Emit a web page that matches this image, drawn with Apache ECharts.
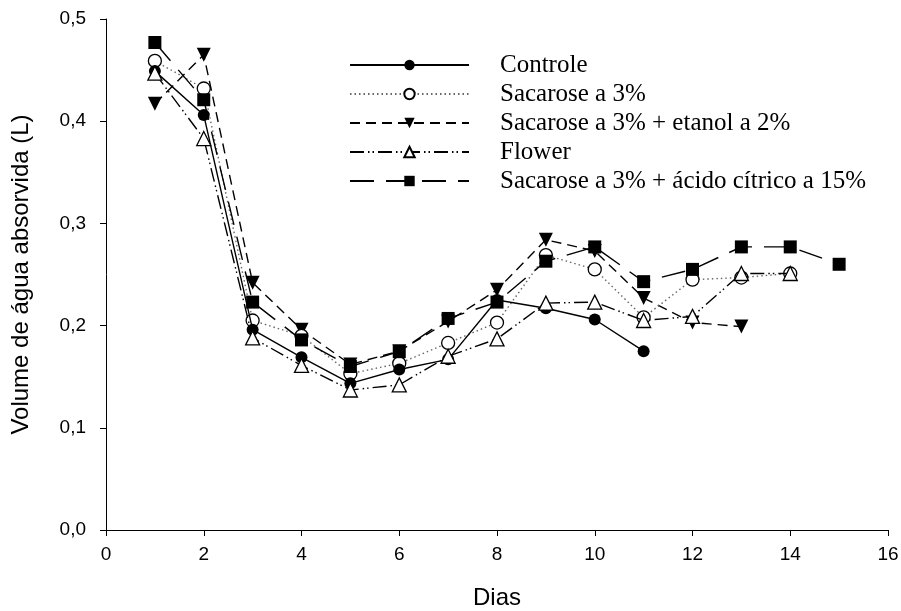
<!DOCTYPE html>
<html>
<head>
<meta charset="utf-8">
<script src="https://cdn.jsdelivr.net/npm/echarts@6/dist/echarts.min.js"></script>
<style>
  html, body { margin: 0; padding: 0; background: #fff; }
  #chart { width: 901px; height: 611px; }
</style>
</head>
<body>
<div id="chart"></div>
<script>
// dias
const diasControle = [1, 2, 3, 4, 5, 6, 7, 8, 9, 10, 11]
const diasSacarose = [1, 2, 3, 4, 5, 6, 7, 8, 9, 10, 11, 12, 13, 14]
const diasEtanol = [1, 2, 3, 4, 5, 6, 7, 8, 9, 10, 11, 12, 13]
const diasFlower = [1, 2, 3, 4, 5, 6, 7, 8, 9, 10, 11, 12, 13, 14]
const diasAcido = [1, 2, 3, 4, 5, 6, 7, 8, 9, 10, 11, 12, 13, 14, 15]

// volume de água absorvida (L)
const controle = [0.449, 0.406, 0.196, 0.169, 0.1435, 0.157, 0.167, 0.225, 0.217, 0.206, 0.175]
const sacarose = [0.459, 0.432, 0.205, 0.190, 0.153, 0.163, 0.183, 0.203, 0.269, 0.255, 0.208, 0.245, 0.247, 0.251]
const etanol = [0.417, 0.465, 0.242, 0.196, 0.162, 0.175, 0.204, 0.235, 0.284, 0.273, 0.227, 0.203, 0.199]
const flower = [0.447, 0.383, 0.188, 0.161, 0.137, 0.142, 0.170, 0.187, 0.222, 0.223, 0.205, 0.209, 0.251, 0.251]
const acido = [0.477, 0.421, 0.223, 0.186, 0.160, 0.1745, 0.207, 0.223, 0.263, 0.277, 0.243, 0.255, 0.277, 0.277, 0.260]

const nomes = [
  'Controle',
  'Sacarose a 3%',
  'Sacarose a 3% + etanol a 2%',
  'Flower',
  'Sacarose a 3% + ácido cítrico a 15%'
]

function pares(xs, ys) {
  return xs.map((x, i) => [x, ys[i]])
}

function serie(name, xs, ys, opts) {
  return Object.assign({
    name: name,
    type: 'line',
    data: pares(xs, ys),
    symbolSize: 12,
    animation: false,
    lineStyle: { color: '#000', width: 1.4 }
  }, opts)
}

const chart = echarts.init(document.getElementById('chart'))

chart.setOption({
  backgroundColor: '#fff',
  grid: {
    left: 106,
    right: 13,
    top: 19,
    bottom: 81,
    outerBoundsMode: 'none'
  },
  legend: {
    orient: 'vertical',
    left: 344,
    top: 47,
    itemWidth: 119,
    itemHeight: 13,
    itemGap: 3,
    data: nomes,
    textStyle: {
      fontFamily: 'Liberation Serif',
      fontSize: 25,
      lineHeight: 26,
      color: '#000',
      padding: [0, 0, 0, 26]
    }
  },
  xAxis: {
    type: 'value',
    min: 0,
    max: 16,
    interval: 2,
    name: 'Dias',
    nameLocation: 'middle',
    nameGap: 56,
    nameTextStyle: { fontFamily: 'Liberation Sans', fontSize: 24, color: '#000' },
    splitLine: { show: false },
    axisLine: { onZero: false, lineStyle: { color: '#000', width: 1 } },
    axisTick: { inside: false, length: 6, lineStyle: { color: '#000' } },
    axisLabel: { margin: 15, fontFamily: 'Liberation Sans', fontSize: 19, color: '#000' }
  },
  yAxis: {
    type: 'value',
    min: 0,
    max: 0.5,
    interval: 0.1,
    name: 'Volume de água absorvida (L)',
    nameLocation: 'middle',
    nameGap: 73,
    nameTextStyle: { fontFamily: 'Liberation Sans', fontSize: 24, color: '#000' },
    splitLine: { show: false },
    axisLine: { show: true, lineStyle: { color: '#000', width: 1 } },
    axisTick: { show: true, inside: false, length: 6, lineStyle: { color: '#000' } },
    axisLabel: {
      margin: 20,
      fontFamily: 'Liberation Sans',
      fontSize: 19,
      color: '#000',
      formatter: v => v.toFixed(1).replace('.', ',')
    }
  },
  series: [
    serie(nomes[0], diasControle, controle, {
      symbol: 'circle',
      itemStyle: { color: '#000' },
      lineStyle: { color: '#000', width: 1.4, type: 'solid' },
      z: 6
    }),
    serie(nomes[1], diasSacarose, sacarose, {
      symbol: 'circle',
      symbolSize: 13,
      itemStyle: { color: '#fff', borderColor: '#000', borderWidth: 1.3 },
      lineStyle: { color: '#666', width: 1.4, type: [1.5, 3] },
      z: 4
    }),
    serie(nomes[2], diasEtanol, etanol, {
      symbol: 'triangle',
      symbolSize: 14,
      symbolRotate: 180,
      itemStyle: { color: '#000' },
      lineStyle: { color: '#000', width: 1.4, type: [10, 6] },
      z: 3
    }),
    serie(nomes[3], diasFlower, flower, {
      symbol: 'triangle',
      symbolSize: 14,
      itemStyle: { color: '#fff', borderColor: '#000', borderWidth: 1.3 },
      lineStyle: { color: '#000', width: 1.4, type: [14, 4, 1.5, 3, 1.5, 4] },
      z: 7
    }),
    serie(nomes[4], diasAcido, acido, {
      symbol: 'rect',
      symbolSize: 13,
      itemStyle: { color: '#000' },
      lineStyle: { color: '#000', width: 1.4, type: [24, 12] },
      z: 5
    })
  ]
})
</script>
</body>
</html>
